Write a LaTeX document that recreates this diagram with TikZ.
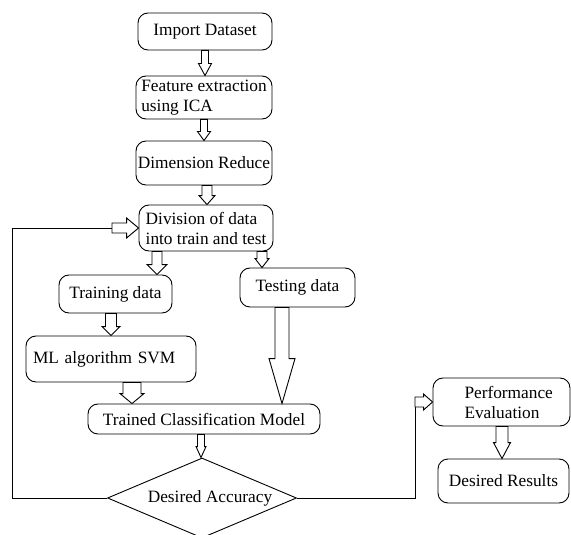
\documentclass[tikz,border=0pt]{standalone}
\usepackage{fontspec}
\setmainfont{Liberation Serif}
\usetikzlibrary{shapes.geometric,calc}
\newcommand{\fs}{\fontsize{17.3}{20}\selectfont}
% down block arrow: start, tip, shaft half width, head half width, head length
\newcommand{\dnarrow}[5]{\draw[blk] let \p1=(#1), \p2=(#2) in
  (\x1-#3,\y1) -- (\x1-#3,\y2+#5) -- (\x1-#4,\y2+#5) -- (\x1,\y2) --
  (\x1+#4,\y2+#5) -- (\x1+#3,\y2+#5) -- (\x1+#3,\y1) -- cycle;}
% right block arrow
\newcommand{\rtarrow}[5]{\draw[blk] let \p1=(#1), \p2=(#2) in
  (\x1,\y1-#3) -- (\x2-#5,\y1-#3) -- (\x2-#5,\y1-#4) -- (\x2,\y1) --
  (\x2-#5,\y1+#4) -- (\x2-#5,\y1+#3) -- (\x1,\y1+#3) -- cycle;}
\begin{document}
\begin{tikzpicture}[x=1pt,y=-1pt,
  box/.style={draw, rounded corners=10pt, line width=0.9pt, font=\fs, inner sep=0pt},
  blk/.style={draw, line width=0.9pt, fill=white, line join=miter},
  conn/.style={draw, line width=0.9pt}]
\useasboundingbox (0,0) rectangle (571,535);
\node[box, minimum width=134pt, minimum height=37pt] (imp) at (205,31.5) {Import Dataset};
\node[box, minimum width=136pt, minimum height=43pt, align=left] (feat) at (204,97.5) {Feature extraction\\using ICA};
\node[box, minimum width=136pt, minimum height=44pt] (dim) at (204,163) {Dimension Reduce};
\node[box, minimum width=134pt, minimum height=46pt, align=left] (div) at (206,228) {Division of data\\into train and test};
\node[box, minimum width=113pt, minimum height=38pt] (train) at (115.5,294) {Training data};
\node[box, minimum width=115pt, minimum height=39pt] (test) at (297.5,287.5) {Testing data};
\node[box, minimum width=170pt, minimum height=46pt, text width=156pt, align=left] (ml) at (111,359) {ML algorithm SVM};
\node[box, minimum width=232pt, minimum height=30pt] (trained) at (204,419) {Trained Classification Model};
\node[draw, diamond, line width=0.9pt, font=\fs, minimum width=189pt, minimum height=80pt, aspect=2.36, inner sep=0pt] (dia) at (202,498) {\hspace*{16pt}Desired Accuracy};
\node[box, minimum width=137pt, minimum height=48pt, text width=130pt, align=left] (perf) at (501.5,402) {\hspace*{28pt}Performance\\\hspace*{28pt}Evaluation};
\node[box, minimum width=131pt, minimum height=44pt] (res) at (503.5,481) {Desired Results};
% block arrows
\dnarrow{imp.south}{feat.north}{3.5pt}{6.5pt}{12pt}
\dnarrow{feat.south}{dim.north}{3.5pt}{6.5pt}{9pt}
\dnarrow{$(dim.south)+(3,0)$}{div.north}{5pt}{8pt}{9pt}
\dnarrow{$(div.south)+(-49,0)$}{train.north}{5pt}{10pt}{10pt}
\dnarrow{$(div.south)+(56,0)$}{test.north}{5pt}{7pt}{9pt}
\dnarrow{$(train.south)+(-4.5,0)$}{ml.north}{5.5pt}{9pt}{9pt}
\dnarrow{$(ml.south)+(21,0)$}{trained.north}{9pt}{12pt}{10pt}
\dnarrow{$(test.south)+(-15.5,0)$}{trained.north}{7pt}{13pt}{45pt}
\dnarrow{$(trained.south)+(-3,0)$}{dia.north}{3.5pt}{5pt}{11pt}
\dnarrow{$(perf.south)+(0.5,0)$}{res.north}{6pt}{8.5pt}{16pt}
% loop back
\coordinate (lp1) at (12,498);
\coordinate (lp2) at (12,228);
\coordinate (lp3) at (112,228);
\draw[conn] (dia.west) -- (lp1) -- (lp2) -- (lp3);
\rtarrow{lp3}{div.west}{5pt}{10pt}{12pt}
% to performance
\coordinate (rp1) at (415,498);
\coordinate (rp2) at (415,402);
\draw[conn] (dia.east) -- (rp1) -- (rp2);
\rtarrow{rp2}{perf.west}{5pt}{8pt}{9pt}
\end{tikzpicture}
\end{document}
